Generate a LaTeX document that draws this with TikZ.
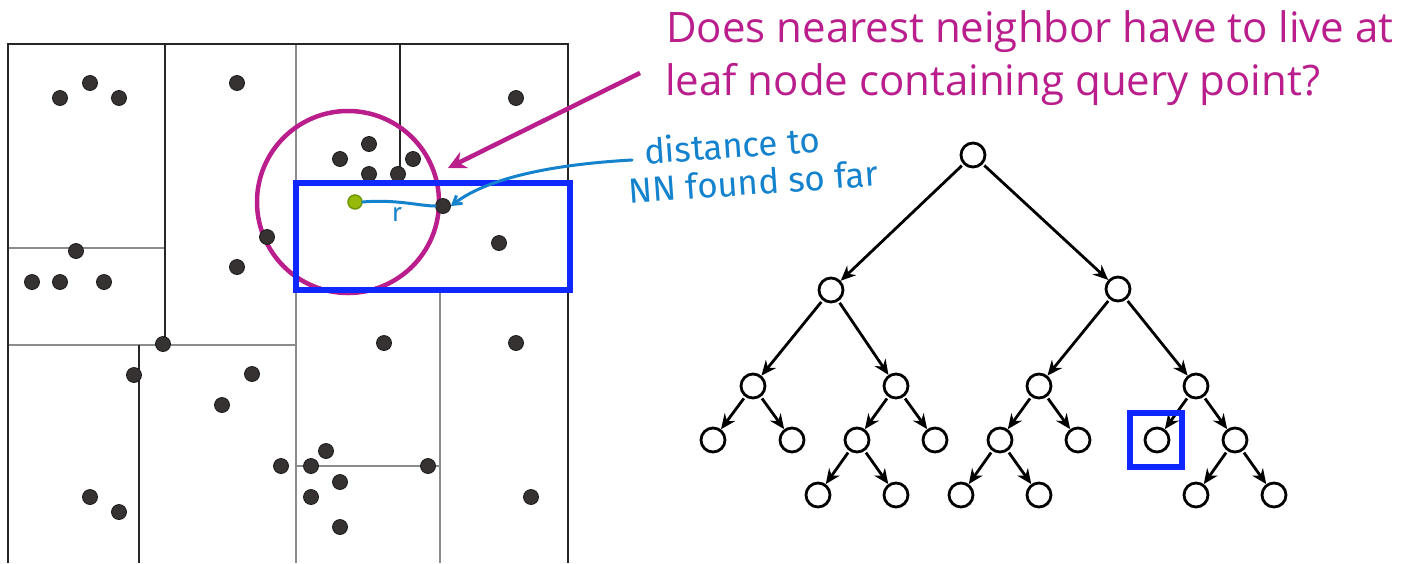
\documentclass[tikz,border=0pt]{standalone}
\usepackage{fontspec}
\setmainfont{Open Sans}
\newfontfamily\handfont{Fira Sans}
\usetikzlibrary{arrows.meta}
\definecolor{mag}{RGB}{185,30,140}
\definecolor{boxblue}{RGB}{15,40,255}
\definecolor{handblue}{RGB}{20,130,205}
\definecolor{dotc}{RGB}{55,50,50}
\definecolor{gridg}{RGB}{140,140,140}
\definecolor{qgreen}{RGB}{150,185,10}
\definecolor{qgreend}{RGB}{110,150,0}
\tikzset{
  gridk/.style={draw=black!85, line width=1.8pt},
  gridl/.style={draw=gridg, line width=2pt},
  pt/.style={circle, fill=dotc, draw=black!90, line width=0.8pt, minimum size=15pt, inner sep=0pt},
  qpt/.style={circle, fill=qgreen, draw=qgreend, line width=1.5pt, minimum size=14pt, inner sep=0pt},
  tnode/.style={circle, draw=black, line width=2.8pt, minimum size=24pt, inner sep=0pt},
  tedge/.style={draw=black, line width=2.8pt, -{Stealth[length=15pt,width=13pt]}, shorten <=2pt},
  question/.style={text=mag, font=\fontsize{42}{50}\selectfont, anchor=base west, inner sep=0pt},
  hand/.style={text=handblue, font=\handfont\fontsize{35}{38}\selectfont, align=left, anchor=north west, inner sep=0pt, rotate=4},
}
\begin{document}
\begin{tikzpicture}[x=1pt,y=-1pt]
\useasboundingbox (0,0) rectangle (1407,563);
% --- kd-tree partition ---
\draw[gridl] (296,44) -- (296,563);
\draw[gridl] (8,248) -- (165,248);
\draw[gridl] (8,345) -- (296,345);
\draw[gridl] (296,466) -- (440,466);
\draw[gridl] (440,292) -- (440,563);
\draw[gridl] (296,181) -- (568,181);
\draw[gridk] (165,44) -- (165,345);
\draw[gridk] (400,44) -- (400,181);
\draw[gridk] (139,345) -- (139,563);
\draw[gridk] (8,563) -- (8,44) -- (568,44) -- (568,563);
% --- search circle ---
\draw[mag, line width=4.5pt] (348,202) circle[radius=91];
% --- data points ---
\foreach \x/\y [count=\i] in {60/98, 90/83, 119/98, 237/83, 76/251, 32/282, 60/282, 104/282, 267/237, 237/267,
  516/98, 369/144, 340/159, 413/159, 369/174, 398/174, 499/243,
  163/344, 134/375, 252/374, 222/405, 281/466, 90/497, 119/512,
  384/343, 516/343, 326/451, 311/466, 428/466, 340/482, 311/497, 340/527, 531/497}
  \node[pt] (p\i) at (\x,\y) {};
\node[pt] (nn) at (443,206) {};
\node[qpt] (q) at (355,202) {};
% --- leaf cell of the query ---
\draw[boxblue, line width=6pt] (296,183) rectangle (570,290);
% --- radius annotation ---
\draw[handblue, line width=3pt, line cap=round] (q.east) .. controls (395,199) and (420,206) .. (nn.west);
\node[text=handblue, font=\handfont\fontsize{26}{26}\selectfont, inner sep=0pt] (rlab) at (397,214) {r};
\coordinate (dstart) at (632,160);
\draw[handblue, line width=3pt, line cap=round, -{Straight Barb[length=8pt,width=10pt]}] (dstart) .. controls (560,164) and (490,176) .. (nn.east);
\node[hand] (dtxt) at (625,138) {\hspace*{18pt}distance to\\NN found so far};
% --- question ---
\node[question] (t1) at (666,42) {Does nearest neighbor have to live at};
\node[question] (t2) at (665,95) {leaf node containing query point?};
\coordinate (mstart) at (640,73);
\coordinate (mtip) at (448,168);
\draw[mag, line width=4.5pt, -{Stealth[length=18pt,width=18pt,inset=6pt]}] (mstart) -- (mtip);
% --- tree ---
\node[tnode] (r) at (973,155) {};
\node[tnode] (a) at (831,290) {};
\node[tnode] (b) at (1118,289) {};
\node[tnode] (aa) at (753,386) {};
\node[tnode] (ab) at (896,386) {};
\node[tnode] (ba) at (1039,386) {};
\node[tnode] (bb) at (1196,386) {};
\node[tnode] (aaa) at (713,440) {};
\node[tnode] (aab) at (792,440) {};
\node[tnode] (aba) at (857,440) {};
\node[tnode] (abb) at (935,440) {};
\node[tnode] (baa) at (1000,440) {};
\node[tnode] (bab) at (1078,440) {};
\node[tnode] (bba) at (1157,440) {};
\node[tnode] (bbb) at (1235,440) {};
\node[tnode] (abaa) at (818,495) {};
\node[tnode] (abab) at (896,495) {};
\node[tnode] (baaa) at (961,495) {};
\node[tnode] (baab) at (1039,495) {};
\node[tnode] (bbba) at (1196,495) {};
\node[tnode] (bbbb) at (1274,495) {};
\foreach \p/\c in {r/a, r/b, a/aa, a/ab, b/ba, b/bb, aa/aaa, aa/aab, ab/aba, ab/abb,
  ba/baa, ba/bab, bb/bba, bb/bbb, aba/abaa, aba/abab, baa/baaa, baa/baab, bbb/bbba, bbb/bbbb}
  \draw[tedge] (\p) -- (\c);
\draw[boxblue, line width=6pt] (1130,413) rectangle (1182,467);
\end{tikzpicture}
\end{document}
